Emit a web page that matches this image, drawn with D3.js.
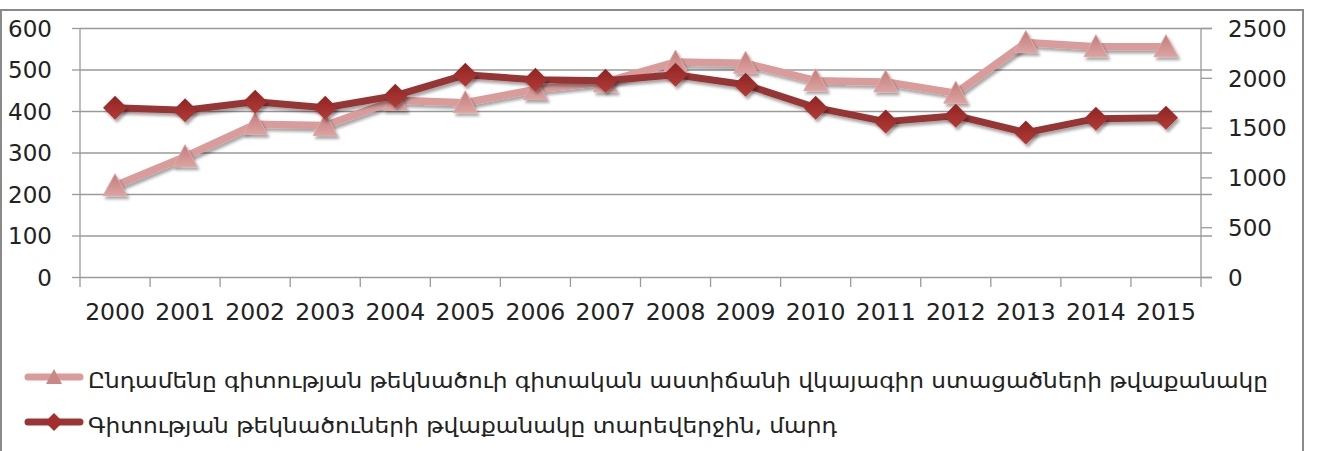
<!DOCTYPE html>
<html>
<head>
<meta charset="utf-8">
<script src="https://cdn.jsdelivr.net/npm/d3@7"></script>
<style>
  body { margin: 0; background: #fff; }
  text { font-family: "DejaVu Sans", sans-serif; fill: #222; }
</style>
</head>
<body>
<div id="chart"></div>
<script>
const years = ["2000","2001","2002","2003","2004","2005","2006","2007","2008","2009","2010","2011","2012","2013","2014","2015"];
// left axis series: degree certificates received
const degrees = [220, 290, 368, 365, 426, 420, 452, 470, 518, 515, 473, 470, 443, 565, 555, 555];
// right axis series: candidates at year end
const candidates = [1700, 1675, 1760, 1700, 1820, 2030, 1980, 1970, 2030, 1930, 1700, 1560, 1620, 1450, 1590, 1600];
const leftTicks = [0, 100, 200, 300, 400, 500, 600];
const rightTicks = [0, 500, 1000, 1500, 2000, 2500];
const seriesNames = [
  "Ընդամենը գիտության թեկնածուի գիտական աստիճանի վկայագիր ստացածների թվաքանակը",
  "Գիտության թեկնածուների թվաքանակը տարեվերջին, մարդ"
];

const W = 1318, H = 451;
const PLOT = { LEFT: 80, RIGHT: 1201, TOP: 28, BOTTOM: 277 };

const svg = d3.select("#chart").append("svg")
  .attr("width", W)
  .attr("height", H);

const defs = svg.append("defs");
const shadow = defs.append("filter").attr("id", "shadow")
  .attr("x", "-50%").attr("y", "-50%").attr("width", "200%").attr("height", "200%");
shadow.append("feDropShadow")
  .attr("dx", 2).attr("dy", 3).attr("stdDeviation", 1.8)
  .attr("flood-color", "#000").attr("flood-opacity", 0.35);

const gradTri = defs.append("linearGradient").attr("id", "gradTri")
  .attr("x1", 0).attr("y1", 0).attr("x2", 0).attr("y2", 1);
gradTri.append("stop").attr("offset", "0%").attr("stop-color", "#c07c7a");
gradTri.append("stop").attr("offset", "100%").attr("stop-color", "#dda3a1");

const gradDia = defs.append("linearGradient").attr("id", "gradDia")
  .attr("x1", 0).attr("y1", 0).attr("x2", 0).attr("y2", 1);
gradDia.append("stop").attr("offset", "0%").attr("stop-color", "#8e2523");
gradDia.append("stop").attr("offset", "100%").attr("stop-color", "#b33a37");

// outer frame
svg.append("rect")
  .attr("x", 1).attr("y", 10)
  .attr("width", 1302).attr("height", 460)
  .attr("fill", "none")
  .attr("stroke", "#8a8a8a")
  .attr("stroke-width", 2);

const x = d3.scaleBand().domain(years).range([PLOT.LEFT, PLOT.RIGHT]);
const yL = d3.scaleLinear().domain([0, 600]).range([PLOT.BOTTOM, PLOT.TOP]);
const yR = d3.scaleLinear().domain([0, 2500]).range([PLOT.BOTTOM, PLOT.TOP]);

// gridlines
svg.append("g")
  .attr("class", "grid")
  .attr("transform", `translate(${PLOT.LEFT}, 0)`)
  .call(d3.axisLeft(yL).tickValues(leftTicks).tickSize(-(PLOT.RIGHT - PLOT.LEFT + 11)).tickFormat(""))
  .call((g) => g.select(".domain").remove())
  .call((g) => g.selectAll("line").attr("stroke", "#9a9a9a").attr("stroke-width", 1.3));

// left axis
const leftAxis = svg.append("g")
  .attr("transform", `translate(${PLOT.LEFT}, 0)`)
  .call(d3.axisLeft(yL).tickValues(leftTicks).tickFormat(d3.format("d")).tickSize(8).tickPadding(20));
leftAxis.select(".domain").remove();
leftAxis.selectAll("line").attr("stroke", "#9a9a9a").attr("stroke-width", 1.3);
leftAxis.selectAll("text").attr("font-size", "23px").attr("dy", "0.36em");

// right axis
const rightAxis = svg.append("g")
  .attr("transform", `translate(${PLOT.RIGHT}, 0)`)
  .call(d3.axisRight(yR).tickValues(rightTicks).tickFormat(d3.format("d")).tickSize(11).tickPadding(16));
rightAxis.select(".domain").remove();
rightAxis.selectAll("line").attr("stroke", "#9a9a9a").attr("stroke-width", 1.3);
rightAxis.selectAll("text").attr("font-size", "23px").attr("dy", "0.36em");

// vertical axis lines
svg.append("line")
  .attr("x1", PLOT.LEFT).attr("x2", PLOT.LEFT)
  .attr("y1", PLOT.TOP).attr("y2", PLOT.BOTTOM + 10)
  .attr("stroke", "#9a9a9a").attr("stroke-width", 1.3);
svg.append("line")
  .attr("x1", PLOT.RIGHT).attr("x2", PLOT.RIGHT)
  .attr("y1", PLOT.TOP).attr("y2", PLOT.BOTTOM + 10)
  .attr("stroke", "#9a9a9a").attr("stroke-width", 1.3);

// x axis
const xAxis = svg.append("g")
  .attr("transform", `translate(0, ${PLOT.BOTTOM})`)
  .call(d3.axisBottom(x).tickSize(0).tickPadding(26));
xAxis.select(".domain").remove();
xAxis.selectAll("text").attr("font-size", "23.5px").attr("fill", "#222");

// category boundary ticks
const bounds = years.map((d) => x(d)).concat([x(years[years.length - 1]) + x.bandwidth()]);
svg.append("g").selectAll("line")
  .data(bounds.slice(1, -1))
  .join("line")
  .attr("x1", (d) => d).attr("x2", (d) => d)
  .attr("y1", PLOT.BOTTOM).attr("y2", PLOT.BOTTOM + 10)
  .attr("stroke", "#9a9a9a").attr("stroke-width", 1.3);

const cx = (d, i) => x(years[i]) + x.bandwidth() / 2;

// pink series (left axis)
const triPath = "M0,-12L12,10L-12,10Z";
const pink = svg.append("g");
pink.append("path")
  .datum(degrees)
  .attr("fill", "none")
  .attr("stroke", "#d99c9a")
  .attr("stroke-width", 7.5)
  .attr("stroke-linejoin", "round")
  .attr("filter", "url(#shadow)")
  .attr("d", d3.line().x(cx).y((d) => yL(d)));
pink.selectAll(".tri")
  .data(degrees)
  .join("path")
  .attr("class", "tri")
  .attr("d", triPath)
  .attr("transform", (d, i) => `translate(${cx(d, i)}, ${yL(d)})`)
  .attr("fill", "url(#gradTri)")
  .attr("stroke", "#dfa9a7")
  .attr("stroke-width", 1)
  .attr("filter", "url(#shadow)");

// dark series (right axis)
const diaPath = "M0,-12L12,0L0,12L-12,0Z";
const dark = svg.append("g");
dark.append("path")
  .datum(candidates)
  .attr("fill", "none")
  .attr("stroke", "#973634")
  .attr("stroke-width", 7)
  .attr("stroke-linejoin", "round")
  .attr("filter", "url(#shadow)")
  .attr("d", d3.line().x(cx).y((d) => yR(d)));
dark.selectAll(".dia")
  .data(candidates)
  .join("path")
  .attr("class", "dia")
  .attr("d", diaPath)
  .attr("transform", (d, i) => `translate(${cx(d, i)}, ${yR(d)})`)
  .attr("fill", "url(#gradDia)")
  .attr("filter", "url(#shadow)");

// legend
const legend = svg.append("g");
const legendRows = [
  { name: seriesNames[0], y: 377, color: "#d99c9a", fill: "#c98886", shape: "M0,-8L8,7L-8,7Z", width: 1180 },
  { name: seriesNames[1], y: 422, color: "#973634", fill: "#a52e2c", shape: "M0,-9L9,0L0,9L-9,0Z", width: 749 }
];
legendRows.forEach((r) => {
  legend.append("line")
    .attr("x1", 28).attr("x2", 80)
    .attr("y1", r.y).attr("y2", r.y)
    .attr("stroke", r.color)
    .attr("stroke-width", 7)
    .attr("stroke-linecap", "round");
  legend.append("path")
    .attr("d", r.shape)
    .attr("transform", `translate(54, ${r.y})`)
    .attr("fill", r.fill);
  legend.append("text")
    .attr("x", 88)
    .attr("y", r.y + 4)
    .attr("dy", "0.32em")
    .attr("font-size", "21px")
    .attr("textLength", r.width)
    .attr("lengthAdjust", "spacingAndGlyphs")
    .text(r.name);
});
</script>
</body>
</html>
